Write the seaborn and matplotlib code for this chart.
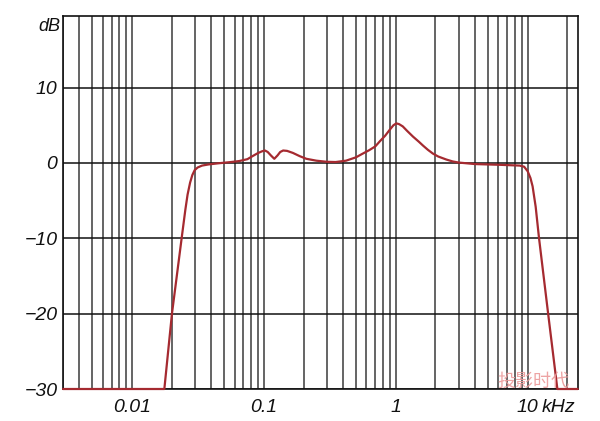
"""Frequency response plot (dB vs kHz) redrawn with seaborn."""

import pandas as pd
import seaborn as sns
import matplotlib.pyplot as plt
from matplotlib.ticker import LogLocator, NullFormatter, FixedLocator

# frequency in kHz, level in dB
freq_khz = [0.003, 0.0176, 0.0201, 0.0238, 0.0254, 0.0264, 0.0276, 0.0287,
            0.0299, 0.0315, 0.034, 0.038, 0.045, 0.055, 0.065, 0.075, 0.082,
            0.09, 0.097, 0.102, 0.107, 0.113, 0.12, 0.127, 0.133, 0.14,
            0.15, 0.166, 0.187, 0.21, 0.25, 0.3, 0.35, 0.42, 0.5, 0.55,
            0.63, 0.7, 0.76, 0.83, 0.9, 0.96, 1.01, 1.06, 1.13, 1.22, 1.35,
            1.5, 1.61, 1.75, 1.91, 2.1, 2.42, 2.7, 3.0, 4.0, 6.2, 8.7, 9.4,
            10.0, 10.5, 10.9, 11.5, 12.2, 14.3, 16.8, 24.0]
level_db = [-30, -30, -20, -10, -6.2, -4.2, -2.6, -1.6,
            -0.95, -0.6, -0.35, -0.2, -0.05, 0.1, 0.25, 0.5, 0.9,
            1.3, 1.55, 1.65, 1.45, 1.0, 0.55, 1.0, 1.45, 1.65,
            1.6, 1.33, 0.9, 0.55, 0.3, 0.15, 0.12, 0.3, 0.75, 1.15,
            1.7, 2.2, 2.9, 3.6, 4.4, 5.0, 5.25, 5.15, 4.85, 4.25, 3.5,
            2.8, 2.3, 1.75, 1.25, 0.85, 0.45, 0.2, 0.05, -0.15, -0.25, -0.35, -0.5,
            -1.1, -2.0, -3.1, -5.8, -10, -20, -30, -30]

x_ticks = [0.01, 0.1, 1, 10]
x_labels = ['0.01', '0.1', '1', '10']
y_ticks = [-30, -20, -10, 0, 10]
y_labels = ['\u221230', '\u221220', '\u221210', '0', '10']

df = pd.DataFrame({'freq': freq_khz, 'level': level_db})

sns.set_style('white')
plt.rcParams['font.family'] = ['Liberation Sans', 'DejaVu Sans']

fig = plt.figure(figsize=(6, 4.21), dpi=100)
ax = fig.add_axes([0.105, 0.076, 0.858, 0.886])

sns.lineplot(data=df, x='freq', y='level', sort=False, estimator=None,
             color='#a52a30', linewidth=1.6, ax=ax, zorder=5, clip_on=False)

ax.set_xscale('log')
ax.set_xlim(0.003, 24)
ax.set_ylim(-30, 19.5)

# grid: every 1..9 multiple on x, 10 dB steps on y
ax.xaxis.set_major_locator(FixedLocator(x_ticks))
ax.xaxis.set_minor_locator(LogLocator(base=10, subs=range(1, 10), numticks=20))
ax.xaxis.set_minor_formatter(NullFormatter())
ax.set_xticklabels(x_labels)
ax.set_yticks(y_ticks)
ax.set_yticklabels(y_labels)
ax.grid(True, which='both', axis='x', color='#3a3a3a', linewidth=1.1)
ax.grid(True, which='major', axis='y', color='#111111', linewidth=1.1)
ax.set_axisbelow(True)

ax.tick_params(which='both', length=0)
ax.tick_params(axis='x', pad=7)
ax.tick_params(axis='y', pad=4)
for lbl in ax.get_xticklabels() + ax.get_yticklabels():
    lbl.set_fontsize(14)
    lbl.set_fontstyle('italic')
    lbl.set_color('#111111')

ax.set_xlabel('')
ax.set_ylabel('')

# unit labels
ax.text(-0.006, 0.973, 'dB', transform=ax.transAxes, ha='right', va='center',
        fontsize=13, fontstyle='italic', color='#111111')
ax.annotate('kHz', xy=(10, 0), xycoords=('data', 'axes fraction'),
            xytext=(10, -7), textcoords='offset points', ha='left', va='top',
            fontsize=14, fontstyle='italic', color='#111111')

for spine in ax.spines.values():
    spine.set_color('#111111')
    spine.set_linewidth(1.2)

# watermark
ax.text(0.913, 0.02, '投影时代', transform=ax.transAxes, ha='center',
        va='center', fontsize=13, color='#eb9a9a', alpha=0.9, zorder=6,
        family=['Noto Sans CJK SC', 'DejaVu Sans'])

fig.savefig('out.png', dpi=100, facecolor='white')
